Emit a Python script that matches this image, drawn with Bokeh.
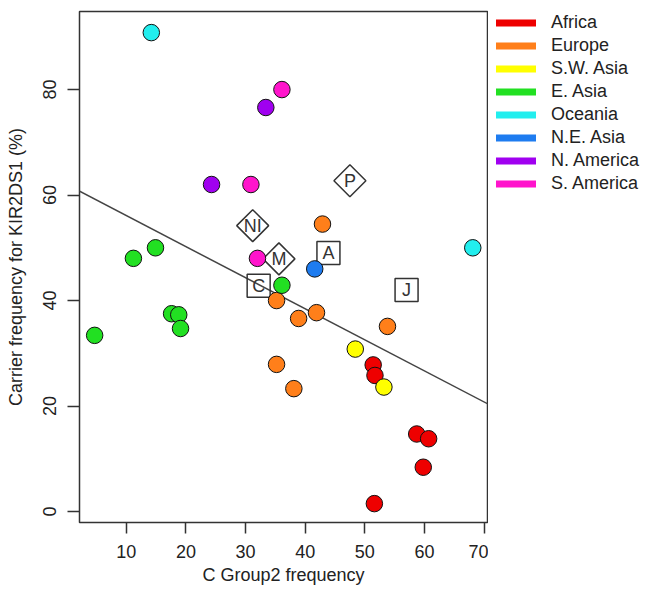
from math import pi
from bokeh.plotting import figure
from bokeh.layouts import row
from bokeh.models import Slope, Legend, LegendItem, Range1d, FixedTicker
from bokeh.embed import file_html
from bokeh.resources import INLINE
from bokeh.core.properties import value

# ---- data ----
regions = ["Africa", "Europe", "S.W. Asia", "E. Asia", "Oceania", "N.E. Asia", "N. America", "S. America"]
region_colors = ["#EE0000", "#FF7F1A", "#FFFF00", "#22E022", "#22EEEE", "#1E7CF0", "#A000F0", "#FF14CC"]

africa_x = [51.4, 51.7, 58.7, 60.7, 59.8, 51.6]
africa_y = [27.8, 25.8, 14.7, 13.8, 8.4, 1.5]
europe_x = [42.9, 35.2, 38.9, 41.9, 53.8, 35.2, 38.1]
europe_y = [54.5, 40.0, 36.6, 37.7, 35.1, 27.9, 23.3]
swasia_x = [48.4, 53.2]
swasia_y = [30.8, 23.6]
easia_x = [4.7, 11.2, 14.9, 17.6, 18.8, 19.1, 36.1]
easia_y = [33.4, 48.0, 50.0, 37.5, 37.3, 34.7, 42.9]
oceania_x = [14.2, 68.1]
oceania_y = [90.8, 50.0]
neasia_x = [41.6]
neasia_y = [46.0]
namerica_x = [33.4, 24.3]
namerica_y = [76.6, 62.0]
samerica_x = [36.1, 30.9, 32.0]
samerica_y = [80.0, 62.0, 48.0]

region_x = [africa_x, europe_x, swasia_x, easia_x, oceania_x, neasia_x, namerica_x, samerica_x]
region_y = [africa_y, europe_y, swasia_y, easia_y, oceania_y, neasia_y, namerica_y, samerica_y]

diamond_labels = ["P", "NI", "M"]
diamond_x = [47.5, 31.2, 35.6]
diamond_y = [62.7, 54.2, 47.9]
square_labels = ["A", "C", "J"]
square_x = [43.9, 32.2, 57.0]
square_y = [49.0, 42.8, 42.0]

fit_intercept = 62.0
fit_slope = -0.589

x_ticks = [10, 20, 30, 40, 50, 60, 70]
y_ticks = [0, 20, 40, 60, 80]

FONT = "Liberation Sans"
DARK = "#333333"

p = figure(width=488, height=589, output_backend="svg", toolbar_location=None, title=None,
           x_range=Range1d(2.16, 70.57), y_range=Range1d(-2.08, 94.8),
           min_border_left=79, min_border_right=1, min_border_top=11, min_border_bottom=67,
           outline_line_color=DARK, outline_line_width=1.5)

p.xgrid.grid_line_color = None
p.ygrid.grid_line_color = None

for ax in (p.xaxis[0], p.yaxis[0]):
    ax.axis_line_color = None
    ax.major_tick_in = 0
    ax.minor_tick_line_color = None
    ax.major_tick_line_color = DARK
    ax.major_tick_line_width = 1.5
    ax.major_label_text_font = FONT
    ax.major_label_text_font_size = "18px"
    ax.major_label_text_color = "#222222"
    ax.axis_label_text_font = FONT
    ax.axis_label_text_font_size = "18px"
    ax.axis_label_text_font_style = "normal"
    ax.axis_label_text_color = "#222222"

p.xaxis[0].ticker = FixedTicker(ticks=x_ticks)
p.yaxis[0].ticker = FixedTicker(ticks=y_ticks)
p.xaxis[0].major_tick_out = 11
p.xaxis[0].major_label_standoff = 11
p.xaxis[0].axis_label_standoff = 4
p.xaxis[0].axis_label = "C Group2 frequency"
p.yaxis[0].major_tick_out = 12
p.yaxis[0].major_label_standoff = 11
p.yaxis[0].axis_label_standoff = 15
p.yaxis[0].major_label_orientation = "vertical"
p.yaxis[0].axis_label = "Carrier frequency for KIR2DS1 (%)"

# boxed / diamond population markers (unfilled)
p.scatter(diamond_x, diamond_y, marker="square", size=22.6, angle=pi / 4,
          fill_color=None, line_color=DARK, line_width=1.5)
p.scatter(square_x, square_y, marker="square", size=23,
          fill_color=None, line_color=DARK, line_width=1.5)
p.text(diamond_x + square_x, diamond_y + square_y, text=diamond_labels + square_labels,
       text_align="center", text_baseline="middle", text_font=value(FONT),
       text_font_size="18px", text_color=DARK)

# regression line (under the points)
p.add_layout(Slope(gradient=fit_slope, y_intercept=fit_intercept,
                   line_color="#444444", line_width=1.5, level="underlay"))

for col, xs, ys in zip(region_colors, region_x, region_y):
    p.scatter(xs, ys, size=16.5, fill_color=col, line_color="#111111", line_width=1)

# legend panel to the right of the plot box
lp = figure(width=158, height=589, output_backend="svg", toolbar_location=None, title=None,
            x_range=Range1d(0, 1), y_range=Range1d(0, 1),
            x_axis_location=None, y_axis_location=None,
            min_border_left=8, min_border_right=0, min_border_top=4, min_border_bottom=0,
            outline_line_color=None)
lp.xgrid.grid_line_color = None
lp.ygrid.grid_line_color = None

items = []
for name, col in zip(regions, region_colors):
    lr = lp.line(x=[-5, -4], y=[-5, -4], line_color=col, line_width=7, line_cap="round")
    items.append(LegendItem(label=name, renderers=[lr]))

legend = Legend(items=items, location="top_left", border_line_color=None,
                background_fill_alpha=0, padding=12, margin=0, spacing=0,
                glyph_width=40, glyph_height=23, label_height=23, label_standoff=15,
                label_text_font=FONT, label_text_font_size="18px",
                label_text_color="#222222")
lp.add_layout(legend)

layout = row(p, lp, spacing=0)
open("out.html", "w").write(file_html(layout, INLINE))
